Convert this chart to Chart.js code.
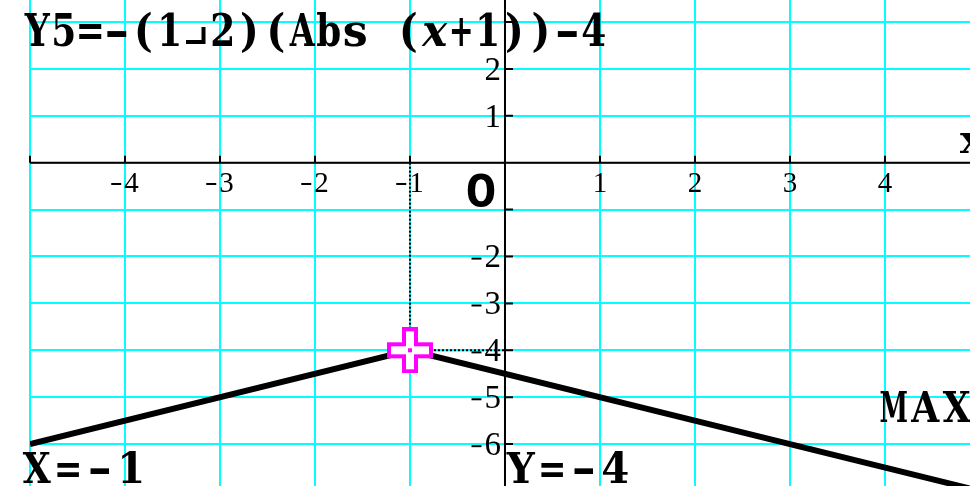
<!DOCTYPE html>
<html>
<head>
<meta charset="utf-8">
<script src="https://cdn.jsdelivr.net/npm/chart.js@4.4.1/dist/chart.umd.min.js"></script>
<style>
  html, body { margin: 0; padding: 0; background: #fff; }
  #wrap { width: 970px; height: 486px; }
</style>
</head>
<body>
<div id="wrap"><canvas id="graph"></canvas></div>
<script>
// Y5 = -(1/2)|x+1| - 4, vertices
const curveX = [-5, -1, 5];
const curveY = [-6, -4, -7];
// trace cursor position
const traceX = [-1];
const traceY = [-4];
// grid lines / tick marks
const xGrid = [-5, -4, -3, -2, -1, 0, 1, 2, 3, 4];
const yGrid = [-6, -5, -4, -3, -2, -1, 0, 1, 2, 3];
// tick labels shown on the axes
const xTickLabels = ['-4', '-3', '-2', '-1', '1', '2', '3', '4'];
const yTickLabels = ['2', '1', '-2', '-3', '-4', '-5', '-6'];
const titleText = 'Y5=-(1\u25182)(Abs (x+1))-4';

const SERIF = '"DejaVu Serif", "Liberation Serif", serif';
const TICKF = '"Liberation Serif", "DejaVu Serif", serif';
const MONO = '"Liberation Mono", "DejaVu Sans Mono", monospace';

function pts(xs, ys) {
  return xs.map((x, i) => ({ x: x, y: ys[i] }));
}

function makeCursor() {
  const c = document.createElement('canvas');
  c.width = 46; c.height = 46;
  const g = c.getContext('2d');
  const a = 2, b = 44, o = 17, p = 29;
  g.beginPath();
  g.moveTo(o, a); g.lineTo(p, a); g.lineTo(p, o); g.lineTo(b, o);
  g.lineTo(b, p); g.lineTo(p, p); g.lineTo(p, b); g.lineTo(o, b);
  g.lineTo(o, p); g.lineTo(a, p); g.lineTo(a, o); g.lineTo(o, o);
  g.closePath();
  g.fillStyle = '#fff';
  g.fill();
  g.lineWidth = 4;
  g.strokeStyle = '#ff00ff';
  g.stroke();
  g.fillStyle = '#ff00ff';
  g.fillRect(21, 21, 4, 4);
  return c;
}

// draw characters one by one in fixed cells, stretched to fill the cell
function drawChars(ctx, str, x, y, adv, size, fill, italicIdx) {
  Array.from(str).forEach((ch, i) => {
    const cx = x + i * adv;
    if (ch === ' ') return;
    if (ch === '\u2518') {
      // fraction bar glyph, drawn by hand so it sits low like on the screen
      ctx.save();
      ctx.lineWidth = 4;
      ctx.strokeStyle = '#000';
      ctx.beginPath();
      ctx.moveTo(cx + 3, y - 4);
      ctx.lineTo(cx + adv - 6, y - 4);
      ctx.lineTo(cx + adv - 6, y - 19);
      ctx.stroke();
      ctx.restore();
      return;
    }
    ctx.save();
    const it = italicIdx && italicIdx.indexOf(i) >= 0 ? 'italic ' : '';
    ctx.font = it + 'bold ' + size + 'px ' + SERIF;
    ctx.textAlign = 'center';
    ctx.textBaseline = 'alphabetic';
    const w = ctx.measureText(ch).width;
    let sx;
    if (/[()]/.test(ch)) sx = 0.9;
    else if (ch === '-') sx = 1.4;
    else if (ch === '=') sx = 0.8;
    else sx = Math.min(1.6, Math.max(0.6, fill / w));
    ctx.translate(cx + adv / 2, y);
    ctx.scale(sx, 1);
    ctx.fillText(ch, 0, 0);
    ctx.restore();
  });
}

// tick label: small dash + digit
function tickLabel(ctx, t, x, y, size, align) {
  const neg = t.charAt(0) === '-';
  const digit = neg ? t.slice(1) : t;
  ctx.font = size + 'px ' + TICKF;
  ctx.textBaseline = 'alphabetic';
  const dw = ctx.measureText(digit).width;
  const total = neg ? dw + 13 : dw;
  let left = align === 'right' ? x - total : x - total / 2;
  if (neg) {
    ctx.fillRect(left, y - size * 0.3, 10, 2);
    left += 13;
  }
  ctx.textAlign = 'left';
  ctx.fillText(digit, left, y);
}

const casioPlugin = {
  id: 'casio',
  beforeDraw(chart) {
    const ctx = chart.ctx;
    ctx.save();
    ctx.fillStyle = '#fff';
    ctx.fillRect(0, 0, chart.width, chart.height);
    ctx.restore();
  },
  beforeDatasetsDraw(chart) {
    const ctx = chart.ctx;
    const xs = chart.scales.x, ys = chart.scales.y;
    const area = chart.chartArea;
    const x0 = xs.getPixelForValue(0), y0 = ys.getPixelForValue(0);
    ctx.save();
    ctx.strokeStyle = '#000';
    ctx.lineWidth = 2;
    ctx.beginPath();
    ctx.moveTo(area.left, y0); ctx.lineTo(area.right, y0);
    ctx.moveTo(x0, 0); ctx.lineTo(x0, chart.height);
    xGrid.forEach(v => {
      const px = xs.getPixelForValue(v);
      ctx.moveTo(px, y0); ctx.lineTo(px, y0 - 7);
    });
    yGrid.forEach(v => {
      const py = ys.getPixelForValue(v);
      ctx.moveTo(x0, py); ctx.lineTo(x0 + 8, py);
    });
    ctx.stroke();

    ctx.fillStyle = '#000';
    xTickLabels.forEach(t => {
      tickLabel(ctx, t, xs.getPixelForValue(Number(t)), y0 + 29, 29, 'center');
    });
    yTickLabels.forEach(t => {
      tickLabel(ctx, t, x0 - 4, ys.getPixelForValue(Number(t)) + 11, 33, 'right');
    });
    ctx.font = 'bold 50px ' + MONO;
    ctx.textAlign = 'center';
    ctx.fillText('O', 481, y0 + 44);
    ctx.restore();
  },
  afterDatasetsDraw(chart) {
    const ctx = chart.ctx;
    const y0 = chart.scales.y.getPixelForValue(0);
    ctx.save();
    ctx.fillStyle = '#000';
    drawChars(ctx, titleText, 24, 46, 26.5, 44, 25, [15]);
    drawChars(ctx, 'X=-1', 21, 483, 31.5, 43, 28);
    drawChars(ctx, 'Y=-4', 505, 483, 31.5, 43, 28);
    drawChars(ctx, 'MAX', 878, 422, 31.5, 43, 28);
    drawChars(ctx, 'x', 957, y0 - 10, 30, 40, 24);
    ctx.restore();
  }
};

new Chart(document.getElementById('graph'), {
  type: 'scatter',
  data: {
    datasets: [
      {
        label: 'trace',
        data: pts(traceX, traceY),
        pointStyle: makeCursor(),
        pointRadius: 23,
        showLine: false,
        order: 0
      },
      {
        label: 'dot v',
        data: [{ x: traceX[0], y: 0 }, { x: traceX[0], y: traceY[0] }],
        showLine: true,
        borderColor: '#000',
        borderWidth: 2,
        borderDash: [2, 2],
        pointRadius: 0,
        order: 1
      },
      {
        label: 'dot h',
        data: [{ x: traceX[0], y: traceY[0] }, { x: 0, y: traceY[0] }],
        showLine: true,
        borderColor: '#000',
        borderWidth: 2,
        borderDash: [2, 2],
        pointRadius: 0,
        order: 1
      },
      {
        label: 'Y5',
        data: pts(curveX, curveY),
        showLine: true,
        borderColor: '#000',
        borderWidth: 6,
        pointRadius: 0,
        order: 2
      }
    ]
  },
  options: {
    responsive: true,
    maintainAspectRatio: false,
    animation: false,
    devicePixelRatio: 1,
    layout: { autoPadding: false, padding: { left: 30, top: 0, right: 0, bottom: 0 } },
    plugins: { legend: { display: false }, tooltip: { enabled: false } },
    events: [],
    scales: {
      x: {
        type: 'linear',
        min: -5,
        max: 4.895,
        afterBuildTicks: s => { s.ticks = xGrid.map(v => ({ value: v })); },
        ticks: { display: false },
        grid: { color: '#00ffff', lineWidth: 2, drawTicks: false },
        border: { display: false }
      },
      y: {
        type: 'linear',
        min: -6.894,
        max: 3.469,
        afterBuildTicks: s => { s.ticks = yGrid.map(v => ({ value: v })); },
        ticks: { display: false },
        grid: { color: '#00ffff', lineWidth: 2, drawTicks: false },
        border: { display: false }
      }
    }
  },
  plugins: [casioPlugin]
});
</script>
</body>
</html>
